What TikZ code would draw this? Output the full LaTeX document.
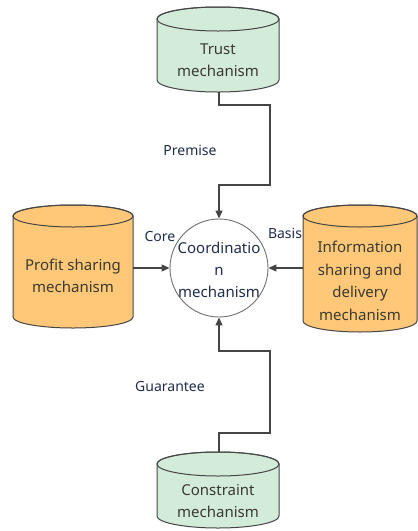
\documentclass[tikz,border=0pt]{standalone}
\usepackage{fontspec}
\setmainfont{Noto Sans}
\usetikzlibrary{arrows.meta}
\definecolor{cylgreen}{HTML}{D3EBD9}
\definecolor{cylorange}{HTML}{FFC878}
\definecolor{edgegrey}{HTML}{454545}
\definecolor{circgrey}{HTML}{707070}
\definecolor{labelblue}{HTML}{1F2D4D}
\definecolor{txtdark}{HTML}{3A3A30}
\newcommand\cylshape[6]{%
  \filldraw[cylbody, fill=#6] (#1-#2,#3) -- (#1-#2,#4)
    arc[start angle=180, end angle=0, x radius=#2, y radius=#5]
    -- (#1+#2,#3)
    arc[start angle=0, end angle=-180, x radius=#2, y radius=#5] -- cycle;
  \draw[cylbody] (#1,#3) ellipse[x radius=#2, y radius=#5];
}
\begin{document}
\begin{tikzpicture}[x=1pt,y=-1pt,
  cylbody/.style={draw=edgegrey, line width=1pt},
  cyltext/.style={align=center, text=txtdark, font=\fontsize{15}{22.5}\selectfont},
  circtext/.style={align=center, text=labelblue, font=\fontsize{15}{22}\selectfont},
  lbl/.style={text=labelblue, font=\fontsize{14}{17}\selectfont},
  conn/.style={draw=edgegrey, line width=1.1pt, -{Triangle[length=8pt,width=7pt]}},
  ]
\useasboundingbox (0,0) rectangle (418,531);
\fill[white] (0,0) rectangle (418,531);
% cylinders
\cylshape{218}{61}{19}{80}{12}{cylgreen}
\node[cyltext] (trust) at (218,60) {Trust\\mechanism};
\cylshape{73}{60}{216}{317}{11}{cylorange}
\node[cyltext] (profit) at (73,276) {Profit sharing\\mechanism};
\cylshape{360}{57}{216}{321}{11}{cylorange}
\node[cyltext] (info) at (360,281) {Information\\sharing and\\delivery\\mechanism};
\cylshape{218}{61}{464}{516}{12}{cylgreen}
\node[cyltext] (constraint) at (218,501) {Constraint\\mechanism};
% centre circle
\node[circle, draw=circgrey, line width=0.9pt, fill=white, minimum size=98pt, inner sep=0pt] (coord) at (219,268) {};
\node[circtext] (coordtext) at (219,270) {Coordinatio\\n\\mechanism};
% connector anchors
\coordinate (trustb) at (219,92);
\coordinate (constrt) at (219,452);
\coordinate (profitr) at (133,268);
\coordinate (infol) at (303,268);
% connectors
\draw[conn] (trustb) -- (219,105) -- (270,105) -- (270,185) -- (219,185) -- (coord.north);
\draw[conn] (constrt) -- (219,433) -- (270,433) -- (270,351) -- (219,351) -- (coord.south);
\draw[conn] (profitr) -- (coord.west);
\draw[conn] (infol) -- (coord.east);
% labels
\node[lbl] (premise) at (190,150) {Premise};
\node[lbl] (core) at (160,236) {Core};
\node[lbl] (basis) at (285,233) {Basis};
\node[lbl] (guarantee) at (170,386) {Guarantee};
\end{tikzpicture}
\end{document}
